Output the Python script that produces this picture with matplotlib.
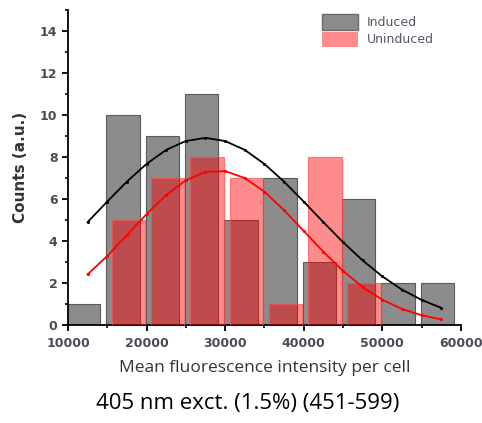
import numpy as np
import matplotlib.pyplot as plt
from matplotlib.ticker import MultipleLocator
from matplotlib.patches import Patch

# histogram counts per bin (bins of 5000)
induced_centers = [12000, 17000, 22000, 27000, 32000, 37000, 42000, 47000, 52000, 57000]
induced_counts = [1, 10, 9, 11, 5, 7, 3, 6, 2, 2]
uninduced_centers = [17700, 22700, 27700, 32700, 37700, 42700, 47700]
uninduced_counts = [5, 7, 8, 7, 1, 8, 2]

# gaussian fit curves, sampled
fit_x = [12500, 15000, 17500, 20000, 22500, 25000, 27500, 30000, 32500, 35000,
         37500, 40000, 42500, 45000, 47500, 50000, 52500, 55000, 57500]
fit_induced = [4.89, 5.87, 6.82, 7.66, 8.33, 8.75, 8.90, 8.75, 8.33, 7.66,
               6.82, 5.87, 4.89, 3.94, 3.07, 2.31, 1.68, 1.19, 0.81]
fit_uninduced = [2.40, 3.28, 4.27, 5.27, 6.18, 6.88, 7.28, 7.32, 6.99, 6.34,
                 5.46, 4.47, 3.48, 2.57, 1.80, 1.20, 0.76, 0.46, 0.26]

bar_w = 4250

fig = plt.figure(figsize=(4.82, 4.23), dpi=100)
ax = fig.add_axes([0.141, 0.232, 0.815, 0.745])

ax.bar(induced_centers, induced_counts, width=bar_w, color='#8c8c8c',
       edgecolor='#5a5a5a', linewidth=0.8, zorder=2)
ax.bar(uninduced_centers, uninduced_counts, width=bar_w, color=(1, 0, 0, 0.45),
       edgecolor=(1, 0.3, 0.3, 0.7), linewidth=0.8, zorder=3)

ax.plot(fit_x, fit_induced, color='black', lw=1.3, marker='o', ms=1.2, zorder=4)
ax.plot(fit_x, fit_uninduced, color='red', lw=1.3, marker='o', ms=1.2, zorder=4)

ax.set_xlim(10000, 60000)
ax.set_ylim(0, 15)
ax.xaxis.set_major_locator(MultipleLocator(10000))
ax.xaxis.set_minor_locator(MultipleLocator(5000))
ax.yaxis.set_major_locator(MultipleLocator(2))
ax.yaxis.set_minor_locator(MultipleLocator(1))

for s in ['top', 'right']:
    ax.spines[s].set_visible(False)
for s in ['left', 'bottom']:
    ax.spines[s].set_linewidth(1.3)

ax.tick_params(which='major', direction='out', length=4, width=1.3,
               labelsize=9, labelcolor='#4a4a5a')
ax.tick_params(axis='x', which='major', pad=5)
ax.tick_params(which='minor', direction='out', length=2.5, width=1.2)
for lbl in ax.get_xticklabels() + ax.get_yticklabels():
    lbl.set_fontweight('bold')

ax.set_ylabel('Counts (a.u.)', fontsize=11, fontweight='bold', color='#333333', labelpad=9)
ax.set_xlabel('Mean fluorescence intensity per cell', fontsize=12.5, color='#333333',
              labelpad=7, family='Open Sans')

handles = [Patch(facecolor='#8c8c8c', edgecolor='#6a6a6a', label='Induced'),
           Patch(facecolor=(1, 0, 0, 0.45), edgecolor='none', label='Uninduced')]
ax.legend(handles=handles, loc='upper left', bbox_to_anchor=(0.646, 0.985), frameon=False,
          borderpad=0, borderaxespad=0, fontsize=9, handlelength=2.9, handleheight=1.5,
          labelspacing=0.15, handletextpad=0.7, labelcolor='#555566')

fig.text(0.513, 0.045, '405 nm exct. (1.5%) (451-599)', ha='center', va='center',
         fontsize=16, family='Open Sans')

fig.savefig('out.png', dpi=100)
